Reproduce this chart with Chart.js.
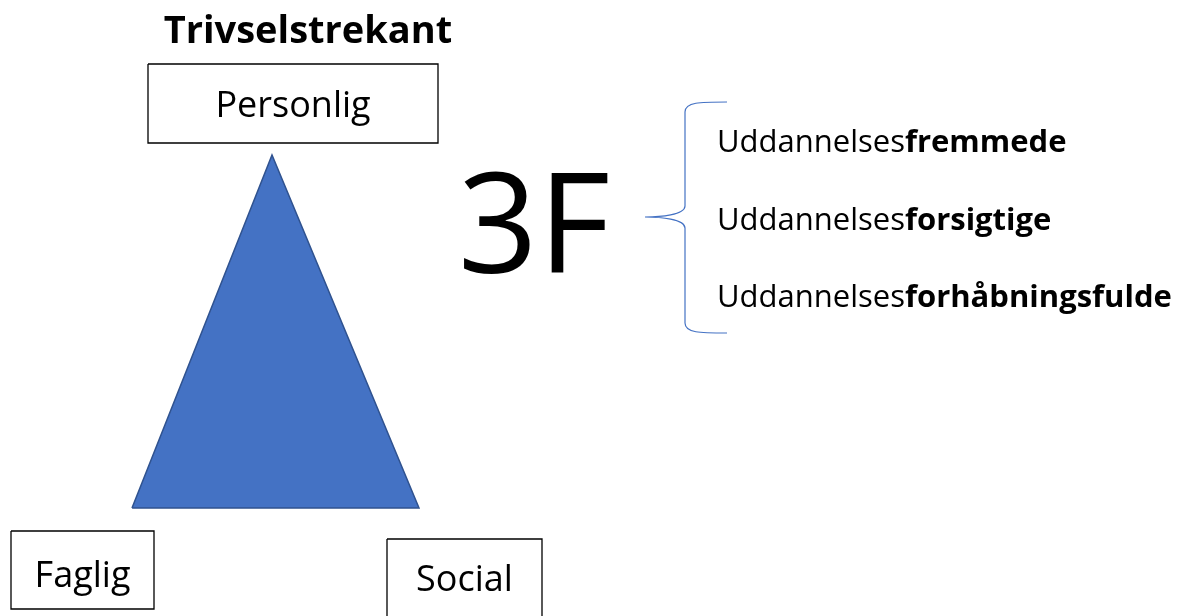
<!DOCTYPE html>
<html lang="da">
  <head>
    <title>Trivselstrekant</title>
    <style>
      body { margin: 0; background: #fff; }
    </style>
  </head>
  <body>
    <canvas id="myChart" width="1181" height="616"></canvas>

    <script src="https://cdn.jsdelivr.net/npm/chart.js"></script>

    <script>
      // diagram content
      var title = "Trivselstrekant";
      var corners = ["Personlig", "Faglig", "Social"];
      var bigLabel = "3F";
      var itemPrefix = "Uddannelses";
      var itemWords = ["fremmede", "forsigtige", "forhåbningsfulde"];

      // triangle corners (bottom left, top, bottom right, back to bottom left)
      var triX = [132, 272, 419, 132];
      var triY = [508, 155, 508, 508];

      // label boxes: left, top, right, bottom
      var boxes = [
        [148, 64, 438, 143],
        [11, 531, 154, 609],
        [387, 539, 542, 622],
      ];

      function boxPoints(b) {
        return [
          { x: b[0], y: b[1] },
          { x: b[2], y: b[1] },
          { x: b[2], y: b[3] },
          { x: b[0], y: b[3] },
          { x: b[0], y: b[1] },
        ];
      }

      var datasets = [
        {
          data: triX.map((x, i) => ({ x: x, y: triY[i] })),
          borderColor: "#2F528F",
          backgroundColor: "#4472C4",
          borderWidth: 1.5,
          fill: false,
          pointRadius: 0,
        },
      ];
      boxes.forEach(function (b) {
        datasets.push({
          data: boxPoints(b),
          borderColor: "#000",
          borderWidth: 1.3,
          fill: false,
          pointRadius: 0,
        });
      });

      // fills the triangle from the points the line controller placed
      var shapeFill = {
        id: "shapeFill",
        beforeDatasetsDraw(chart) {
          var pts = chart.getDatasetMeta(0).data;
          var c = chart.ctx;
          c.save();
          c.beginPath();
          pts.forEach(function (p, i) {
            if (i == 0) c.moveTo(p.x, p.y);
            else c.lineTo(p.x, p.y);
          });
          c.closePath();
          c.fillStyle = chart.data.datasets[0].backgroundColor;
          c.fill();
          c.restore();
        },
      };

      // texts and the curly brace
      var textPlugin = {
        id: "texts",
        afterDatasetsDraw(chart) {
          var c = chart.ctx;
          var sx = chart.scales.x, sy = chart.scales.y;
          var X = (v) => sx.getPixelForValue(v);
          var Y = (v) => sy.getPixelForValue(v);
          var font = '"Open Sans", sans-serif';
          c.save();
          c.fillStyle = "#000";
          c.textAlign = "center";
          c.textBaseline = "alphabetic";

          c.font = "bold 38px " + font;
          c.fillText(title, X(308), Y(43));

          c.font = "36px " + font;
          var bases = [117, 587, 591];
          boxes.forEach(function (b, i) {
            c.fillText(corners[i], X((b[0] + b[2]) / 2), Y(bases[i]));
          });

          c.font = "140px " + font;
          c.fillText(bigLabel, X(534), Y(273));

          // brace
          c.strokeStyle = "#4472C4";
          c.lineWidth = 1.2;
          c.beginPath();
          c.moveTo(X(727), Y(102));
          c.bezierCurveTo(X(700), Y(102), X(685), Y(102), X(685), Y(112));
          c.lineTo(X(685), Y(206));
          c.bezierCurveTo(X(685), Y(215), X(660), Y(217), X(645), Y(217));
          c.bezierCurveTo(X(660), Y(217), X(685), Y(219), X(685), Y(228));
          c.lineTo(X(685), Y(323));
          c.bezierCurveTo(X(685), Y(333), X(700), Y(333), X(727), Y(333));
          c.stroke();

          c.textAlign = "left";
          itemWords.forEach(function (w, i) {
            var bx = X(717), by = Y(152 + i * 77.5);
            c.font = "31px " + font;
            c.fillText(itemPrefix, bx, by);
            var wd = c.measureText(itemPrefix).width;
            c.font = "bold 31px " + font;
            c.fillText(w, bx + wd, by);
          });
          c.restore();
        },
      };

      new Chart(document.getElementById("myChart"), {
        type: "line",
        data: { datasets: datasets },
        options: {
          responsive: false,
          animation: false,
          layout: { padding: 0 },
          plugins: { legend: { display: false }, tooltip: { enabled: false } },
          elements: { line: { tension: 0 } },
          scales: {
            x: { type: "linear", min: 0, max: 1181, display: false },
            y: { type: "linear", min: 0, max: 616, reverse: true, display: false },
          },
        },
        plugins: [shapeFill, textPlugin],
      });
    </script>
  </body>
</html>
